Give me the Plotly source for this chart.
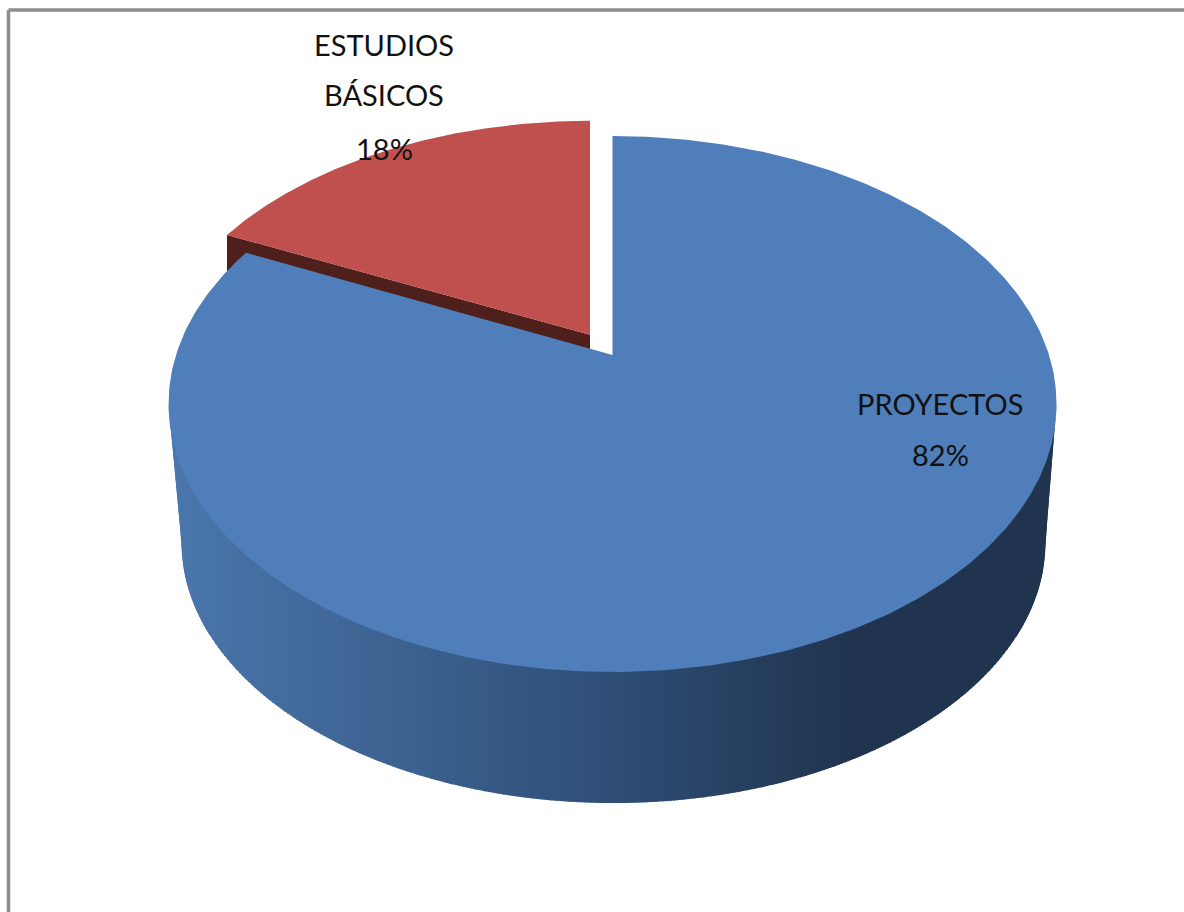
import numpy as np
import plotly.graph_objects as go

categories = ["PROYECTOS", "ESTUDIOS BÁSICOS"]
values = [82, 18]
label_lines = [["PROYECTOS", "82%"], ["ESTUDIOS", "BÁSICOS", "18%"]]

BLUE = "#4f7eba"
RED = "#c0504d"
RED_DARK = "#4f1f1c"
SIDE_STOPS = [(175, (74, 118, 172)), (400, (60, 98, 144)), (600, (47, 79, 120)),
              (850, (32, 52, 79)), (1100, (32, 52, 79))]
TEXT = "#111111"
FONT = "Lato"

K = 0.183
CX, CY = 612.5, 355.0


def project(u, v, scale=1.0, cx=CX, cy=CY):
    """Map a point of the unit pie plane into picture coordinates."""
    u, v = np.asarray(u, float), np.asarray(v, float)
    d = 1 + K * v
    return cx + 436.5 * scale * u / d, cy - 259.0 * scale * v / d


def side_color(x):
    xs = [s[0] for s in SIDE_STOPS]
    c = [np.interp(x, xs, [s[1][i] for s in SIDE_STOPS]) for i in range(3)]
    return "rgb(%d,%d,%d)" % tuple(round(a) for a in c)


total = sum(values)
share_blue = values[0] / total * 2 * np.pi
share_red = values[1] / total * 2 * np.pi
RED_DV, RED_CX, RED_CY, RED_SCALE = 0.085, 590.0, 356.5, 1.005

fig = go.Figure()


def poly(x, y, color):
    fig.add_trace(go.Scatter(x=list(x), y=list(y), mode="lines", fill="toself",
                             fillcolor=color, line=dict(color=color, width=0),
                             hoverinfo="skip", showlegend=False))


# Red slice: cut face first, then the blue slice hides most of it
ex, ey = project(np.sin(-share_red), RED_DV + np.cos(-share_red), RED_SCALE, RED_CX, RED_CY)
ax, ay = project(0, RED_DV, RED_SCALE, RED_CX, RED_CY)
poly([ex, ax, ax, ex], [ey, ay, ay + 120, ey + 120], RED_DARK)

t = np.linspace(-share_red, 0, 200)
rx, ry = project(np.sin(t), RED_DV + np.cos(t), RED_SCALE, RED_CX, RED_CY)
poly(list(rx) + [ax], list(ry) + [ay], RED)

# Side wall of the blue slice: the outline of the lower rim, cut in columns
# so that the shading runs across the picture from left to right
front = np.linspace(np.radians(100.55), np.radians(259.45), 800)
top_x, top_y = project(np.sin(front), np.cos(front))
low_x, low_y = project(np.sin(front), np.cos(front), 0.973, 613.5, 494.6)
out_x = np.concatenate([[top_x[0]], low_x, [top_x[-1]]])
out_y = np.concatenate([[top_y[0]], low_y, [top_y[-1]]])
o1 = np.argsort(out_x)
o2 = np.argsort(top_x)
x_lo, x_hi = top_x.min(), top_x.max()
edges = np.concatenate([np.arange(np.ceil(x_lo), x_lo + 40, 1.0),
                        np.arange(np.ceil(x_lo) + 40, x_hi - 40, 3.0),
                        np.arange(np.floor(x_hi - 40), x_hi, 1.0), [x_hi]])
edges = np.unique(edges)
for x0, x1 in zip(edges[:-1], edges[1:]):
    x2 = min(x1 + 1.0, edges[-1])
    xs = np.array([x0, x2])
    lo = np.interp(xs, out_x[o1], out_y[o1])
    hi = np.interp(xs, top_x[o2], top_y[o2]) - 3
    poly([x0, x2, x2, x0], [hi[0], hi[1], lo[1], lo[0]], side_color((x0 + x1) / 2))

# Blue slice top
t = np.linspace(0, share_blue, 400)
bx, by = project(np.sin(t), np.cos(t))
cx0, cy0 = project(0, 0)
poly(list(bx) + [cx0], list(by) + [cy0], BLUE)

annotations = []
positions = [[(940, 403), (940, 454)], [(384, 44), (384, 94), (384, 148)]]
for lines, pos in zip(label_lines, positions):
    for txt, (x, y) in zip(lines, pos):
        annotations.append(dict(x=x, y=y, text=txt, showarrow=False,
                                xanchor="center", yanchor="middle",
                                font=dict(family=FONT, size=29, color=TEXT)))

frame = dict(type="line", line=dict(color="#8c8c8c", width=3.5), layer="above")
fig.update_layout(
    width=1184, height=912, autosize=False,
    margin=dict(l=0, r=0, t=0, b=0),
    paper_bgcolor="white", plot_bgcolor="white", showlegend=False,
    xaxis=dict(range=[0, 1184], visible=False, fixedrange=True),
    yaxis=dict(range=[912, 0], visible=False, fixedrange=True),
    annotations=annotations,
    shapes=[dict(x0=8.5, x1=8.5, y0=10, y1=912, **frame),
            dict(x0=8.5, x1=1184, y0=10, y1=10, **frame)],
)

fig.write_html("out.html", config=dict(displayModeBar=False),
               post_script="document.body.style.margin='0';document.body.style.overflow='hidden';")
